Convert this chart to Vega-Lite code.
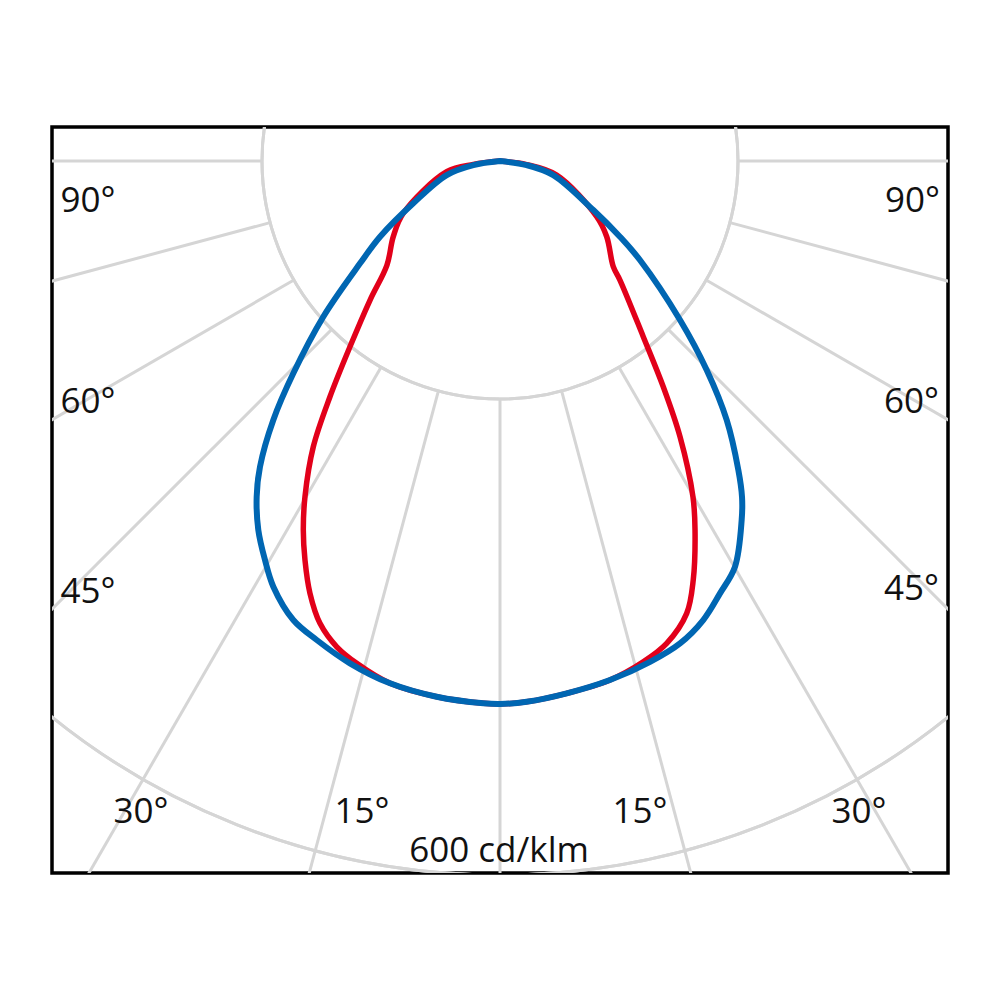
{
  "$schema": "https://vega.github.io/schema/vega-lite/v6.json",
  "description": "Polar luminous intensity diagram, two C-planes",
  "background": "white",
  "autosize": {"type": "none"},
  "padding": {"left": 52, "top": 127, "right": 52, "bottom": 127},
  "width": 896,
  "height": 746,
  "datasets": {
    "circles": [{"r": 200}, {"r": 400}, {"r": 600}],
    "spokes": [
      {"x": 0, "y": -200, "x2": 0, "y2": -1000},
      {"x": 51.76, "y": -193.19, "x2": 258.82, "y2": -965.93},
      {"x": -51.76, "y": -193.19, "x2": -258.82, "y2": -965.93},
      {"x": 100, "y": -173.21, "x2": 500, "y2": -866.03},
      {"x": -100, "y": -173.21, "x2": -500, "y2": -866.03},
      {"x": 141.42, "y": -141.42, "x2": 707.11, "y2": -707.11},
      {"x": -141.42, "y": -141.42, "x2": -707.11, "y2": -707.11},
      {"x": 173.21, "y": -100, "x2": 866.03, "y2": -500},
      {"x": -173.21, "y": -100, "x2": -866.03, "y2": -500},
      {"x": 193.19, "y": -51.76, "x2": 965.93, "y2": -258.82},
      {"x": -193.19, "y": -51.76, "x2": -965.93, "y2": -258.82},
      {"x": 200, "y": 0, "x2": 1000, "y2": 0},
      {"x": -200, "y": 0, "x2": -1000, "y2": 0}
    ],
    "labels": [
      {"x": -346.2, "y": -42.9, "t": "90°"},
      {"x": 346.6, "y": -42.9, "t": "90°"},
      {"x": -346.2, "y": -211.8, "t": "60°"},
      {"x": 345.8, "y": -211.8, "t": "60°"},
      {"x": -346.2, "y": -371.4, "t": "45°"},
      {"x": 345.8, "y": -368.9, "t": "45°"},
      {"x": -301.7, "y": -556.3, "t": "30°"},
      {"x": 301.7, "y": -556.3, "t": "30°"},
      {"x": -116.0, "y": -556.3, "t": "15°"},
      {"x": 117.6, "y": -556.3, "t": "15°"},
      {"x": -0.8, "y": -589.1, "t": "600 cd/klm"}
    ],
    "red": [
      {"i": 1, "x": 0, "y": 0},
      {"i": 2, "x": -22.4, "y": -2.8},
      {"i": 3, "x": -44.8, "y": -9.0},
      {"i": 4, "x": -81.3, "y": -43.9},
      {"i": 5, "x": -89.7, "y": -63.6},
      {"i": 6, "x": -95.0, "y": -87.4},
      {"i": 7, "x": -109.2, "y": -116.8},
      {"i": 8, "x": -126.1, "y": -156.1},
      {"i": 9, "x": -142.9, "y": -198.1},
      {"i": 10, "x": -156.9, "y": -240.1},
      {"i": 11, "x": -163.9, "y": -282.1},
      {"i": 12, "x": -165.3, "y": -310.1},
      {"i": 13, "x": -163.9, "y": -335.3},
      {"i": 14, "x": -159.7, "y": -363.3},
      {"i": 15, "x": -151.3, "y": -388.5},
      {"i": 16, "x": -137.2, "y": -408.2},
      {"i": 17, "x": -120.4, "y": -422.1},
      {"i": 18, "x": -92.4, "y": -438.9},
      {"i": 19, "x": -53.2, "y": -450.2},
      {"i": 20, "x": -14.0, "y": -455.7},
      {"i": 21, "x": 0, "y": -456.3},
      {"i": 22, "x": 22.4, "y": -454.4},
      {"i": 23, "x": 56.1, "y": -447.3},
      {"i": 24, "x": 92.4, "y": -436.1},
      {"i": 25, "x": 120.4, "y": -420.8},
      {"i": 26, "x": 140.1, "y": -405.3},
      {"i": 27, "x": 156.9, "y": -380.1},
      {"i": 28, "x": 162.4, "y": -352.1},
      {"i": 29, "x": 163.9, "y": -310.1},
      {"i": 30, "x": 162.2, "y": -282.4},
      {"i": 31, "x": 151.3, "y": -231.7},
      {"i": 32, "x": 137.2, "y": -189.7},
      {"i": 33, "x": 120.4, "y": -147.6},
      {"i": 34, "x": 100.8, "y": -100.0},
      {"i": 35, "x": 95.2, "y": -88.8},
      {"i": 36, "x": 89.7, "y": -63.6},
      {"i": 37, "x": 81.3, "y": -46.8},
      {"i": 38, "x": 47.6, "y": -11.8},
      {"i": 39, "x": 22.4, "y": -3.0},
      {"i": 40, "x": 0, "y": 0}
    ],
    "blue": [
      {"i": 1, "x": 0, "y": 0},
      {"i": 2, "x": -22.4, "y": -3.4},
      {"i": 3, "x": -44.8, "y": -11.8},
      {"i": 4, "x": -72.9, "y": -35.5},
      {"i": 5, "x": -100.8, "y": -63.6},
      {"i": 6, "x": -117.6, "y": -86.0},
      {"i": 7, "x": -148.5, "y": -130.8},
      {"i": 8, "x": -173.7, "y": -178.4},
      {"i": 9, "x": -190.5, "y": -217.6},
      {"i": 10, "x": -201.7, "y": -256.9},
      {"i": 11, "x": -204.5, "y": -282.1},
      {"i": 12, "x": -203.1, "y": -310.1},
      {"i": 13, "x": -197.5, "y": -335.3},
      {"i": 14, "x": -190.5, "y": -357.7},
      {"i": 15, "x": -173.7, "y": -385.7},
      {"i": 16, "x": -154.0, "y": -402.5},
      {"i": 17, "x": -126.1, "y": -422.1},
      {"i": 18, "x": -92.4, "y": -438.9},
      {"i": 19, "x": -53.2, "y": -450.2},
      {"i": 20, "x": -14.0, "y": -455.7},
      {"i": 21, "x": 0, "y": -456.3},
      {"i": 22, "x": 22.4, "y": -454.4},
      {"i": 23, "x": 56.1, "y": -447.3},
      {"i": 24, "x": 92.4, "y": -436.1},
      {"i": 25, "x": 126.1, "y": -420.8},
      {"i": 26, "x": 151.3, "y": -405.3},
      {"i": 27, "x": 170.8, "y": -385.7},
      {"i": 28, "x": 184.9, "y": -363.3},
      {"i": 29, "x": 197.5, "y": -340.9},
      {"i": 30, "x": 203.1, "y": -301.7},
      {"i": 31, "x": 203.4, "y": -282.4},
      {"i": 32, "x": 200.3, "y": -259.7},
      {"i": 33, "x": 190.5, "y": -217.6},
      {"i": 34, "x": 173.7, "y": -175.6},
      {"i": 35, "x": 151.3, "y": -133.6},
      {"i": 36, "x": 117.6, "y": -83.2},
      {"i": 37, "x": 100.8, "y": -63.6},
      {"i": 38, "x": 78.4, "y": -41.2},
      {"i": 39, "x": 44.8, "y": -11.8},
      {"i": 40, "x": 22.4, "y": -3.4},
      {"i": 41, "x": 0, "y": 0}
    ]
  },
  "layer": [
    {
      "data": {"name": "circles"},
      "mark": {"type": "arc", "theta": 0, "theta2": 6.2832, "filled": false, "stroke": "#d5d5d5", "strokeWidth": 3, "clip": true},
      "encoding": {
        "x": {"datum": 0, "type": "quantitative", "scale": {"domain": [-376.5, 376.5], "nice": false, "zero": false}, "axis": null},
        "y": {"datum": 0, "type": "quantitative", "scale": {"domain": [-598.3, 28.6], "nice": false, "zero": false}, "axis": null},
        "radius": {"field": "r", "type": "quantitative", "scale": {"type": "linear", "domain": [0, 600], "range": [0, 714]}}
      }
    },
    {
      "data": {"name": "spokes"},
      "mark": {"type": "rule", "stroke": "#d5d5d5", "strokeWidth": 3, "clip": true},
      "encoding": {
        "x": {"field": "x", "type": "quantitative", "scale": {"domain": [-376.5, 376.5], "nice": false, "zero": false}, "axis": null},
        "y": {"field": "y", "type": "quantitative", "scale": {"domain": [-598.3, 28.6], "nice": false, "zero": false}, "axis": null},
        "x2": {"field": "x2"},
        "y2": {"field": "y2"}
      }
    },
    {
      "data": {"name": "labels"},
      "mark": {"type": "text", "font": "Open Sans", "fontSize": 35, "color": "#111111", "align": "center", "baseline": "alphabetic"},
      "encoding": {
        "x": {"field": "x", "type": "quantitative", "scale": {"domain": [-376.5, 376.5], "nice": false, "zero": false}, "axis": null},
        "y": {"field": "y", "type": "quantitative", "scale": {"domain": [-598.3, 28.6], "nice": false, "zero": false}, "axis": null},
        "text": {"field": "t", "type": "nominal"}
      }
    },
    {
      "data": {"name": "red"},
      "mark": {"type": "line", "color": "#e2001a", "strokeWidth": 5.5, "interpolate": "catmull-rom", "strokeJoin": "round", "strokeCap": "round"},
      "encoding": {
        "x": {"field": "x", "type": "quantitative", "scale": {"domain": [-376.5, 376.5], "nice": false, "zero": false}, "axis": null},
        "y": {"field": "y", "type": "quantitative", "scale": {"domain": [-598.3, 28.6], "nice": false, "zero": false}, "axis": null},
        "order": {"field": "i", "type": "quantitative"}
      }
    },
    {
      "data": {"name": "blue"},
      "mark": {"type": "line", "color": "#0066b2", "strokeWidth": 6, "interpolate": "catmull-rom", "strokeJoin": "round", "strokeCap": "round"},
      "encoding": {
        "x": {"field": "x", "type": "quantitative", "scale": {"domain": [-376.5, 376.5], "nice": false, "zero": false}, "axis": null},
        "y": {"field": "y", "type": "quantitative", "scale": {"domain": [-598.3, 28.6], "nice": false, "zero": false}, "axis": null},
        "order": {"field": "i", "type": "quantitative"}
      }
    }
  ],
  "config": {
    "view": {"stroke": "#000000", "strokeWidth": 3.5}
  }
}
